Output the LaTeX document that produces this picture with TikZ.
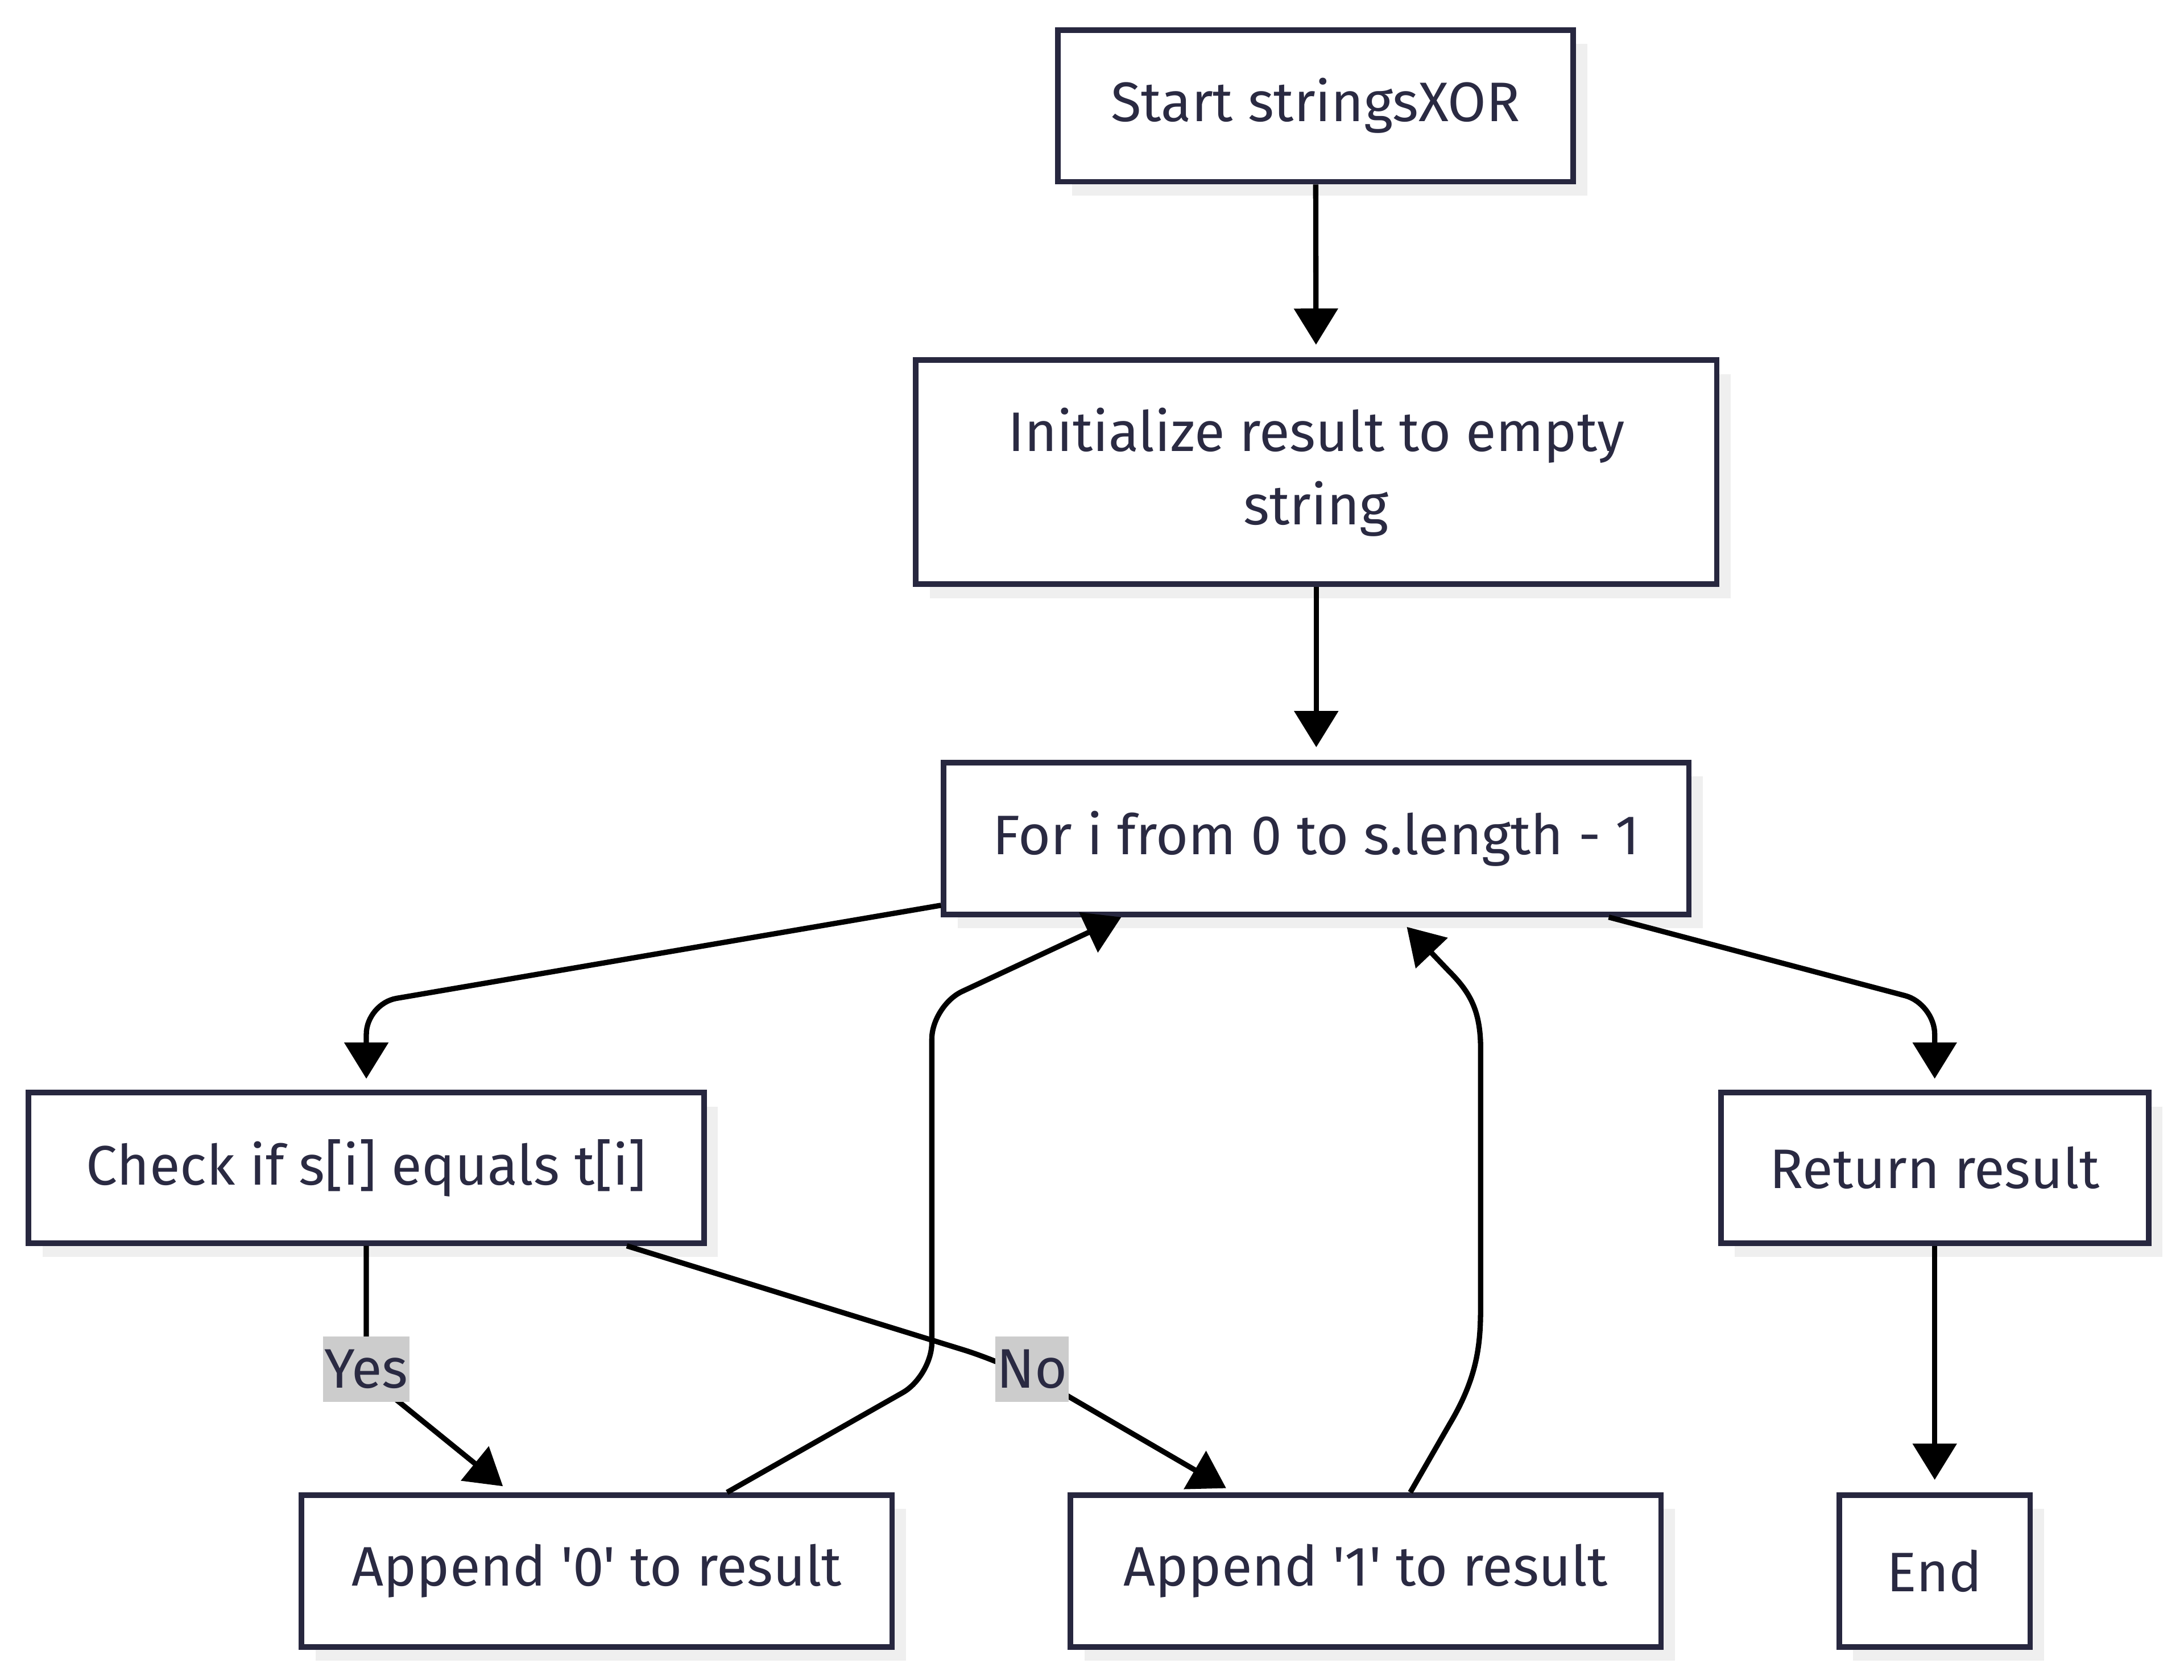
\documentclass[tikz,border=0pt]{standalone}
\usepackage{fontspec}
\setmainfont{Fira Sans}[Ligatures=TeXOff]
\usetikzlibrary{arrows.meta,shadows,calc}
\definecolor{nodeborder}{HTML}{27273F}
\definecolor{textcol}{HTML}{2A2A42}
\definecolor{shadowcol}{HTML}{EFEFEF}
\definecolor{labelgray}{HTML}{CCCCCC}
\begin{document}
\begin{tikzpicture}[x=1pt,y=-1pt,
  box/.style={draw=nodeborder, line width=4pt, fill=white, text=textcol,
    font=\fontsize{40}{53}\selectfont, align=center, inner sep=0pt,
    drop shadow={shadow xshift=10pt, shadow yshift=-10pt, fill=shadowcol, opacity=1}},
  edge/.style={draw=black, line width=3.8pt, -{Triangle[length=26pt,width=31pt]}},
  lbl/.style={fill=labelgray, text=textcol, font=\fontsize{40}{44}\selectfont,
    inner xsep=1pt, inner ysep=0pt, minimum height=47pt}]
\useasboundingbox (0,0) rectangle (1568,1206.2);

\node[box, minimum width=370pt, minimum height=109pt] (start) at (944.5,76) {Start stringsXOR};
\node[box, minimum width=575pt, minimum height=161pt] (init) at (945,339) {Initialize result to empty\\string};
\node[box, minimum width=535pt, minimum height=109pt] (for) at (945,602) {For i from 0 to s.length - 1};
\node[box, minimum width=485pt, minimum height=108pt] (check) at (263,838.5) {Check if s[i] equals t[i]};
\node[box, minimum width=307pt, minimum height=108pt] (ret) at (1389,838.5) {Return result};
\node[box, minimum width=424pt, minimum height=109pt] (app0) at (428.5,1128) {Append '0' to result};
\node[box, minimum width=424pt, minimum height=109pt] (app1) at (980.5,1128) {Append '1' to result};
\node[box, minimum width=137pt, minimum height=109pt] (end) at (1389,1128) {End};

% straight edges
\draw[edge, shorten >=9pt] (start) -- (init);
\draw[edge, shorten >=9pt] (init) -- (for);
\draw[edge, shorten >=9pt] (ret) -- (end);

% For -> Check
\draw[edge, rounded corners=22pt, shorten >=8pt]
  ($(for.west)+(0,48)$) -- ($(check.north)+(0,-62)$) -- (check.north);
% For -> Return
\draw[edge, rounded corners=22pt, shorten >=8pt]
  ($(for.south)+(210,0)$) -- ($(ret.north)+(0,-62)$) -- (ret.north);

% Check -> App0 (Yes)
\draw[edge, rounded corners=10pt, shorten >=7pt]
  (check.south) -- ($(check.south)+(0,93)$) -- ($(app0.north)+(-62,0)$);
\node[lbl] (yes) at (263,983) {Yes};

% Check -> App1 (No)
\draw[edge, rounded corners=40pt, shorten >=6pt]
  ($(check.south)+(187,0)$) -- (730,981) -- ($(app1.north)+(-95,0)$);
\node[lbl] (no) at (741,983) {No};

% App0 -> For
\draw[edge, rounded corners=24pt]
  ($(app0.north)+(93.5,0)$) -- (669,988) -- (669,722) -- ($(for.south)+(-140,0)$);

% App1 -> For
\draw[edge]
  ($(app1.north)+(32,0)$) -- (1041,1022)
  .. controls (1063,985) and (1063,960) .. (1063,933) -- (1063,753)
  .. controls (1063,725) and (1055,712) .. (1040,697) -- ($(for.south)+(65,7)$);
\end{tikzpicture}
\end{document}
